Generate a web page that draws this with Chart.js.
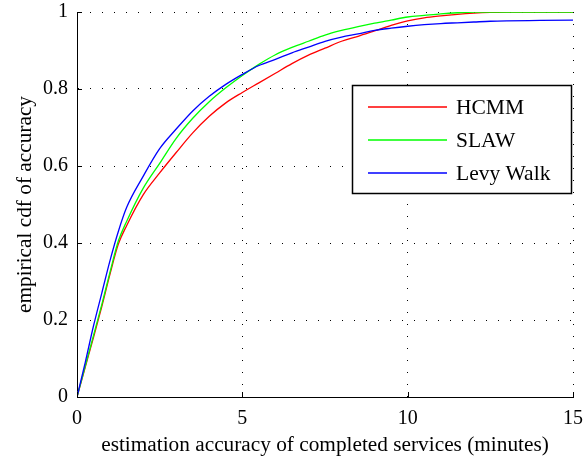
<!DOCTYPE html>
<html>
<head>
<meta charset="utf-8">
<script src="https://cdn.jsdelivr.net/npm/chart.js@4.4.1/dist/chart.umd.min.js"></script>
<style>
  html, body { margin: 0; padding: 0; background: #fff; }
</style>
</head>
<body>
<canvas id="chart" width="585" height="460"></canvas>
<script>
// x values (minutes) and the three empirical cdf curves
const minutes = [0, 0.25, 0.5, 0.75, 1, 1.25, 1.5, 2, 2.5, 3, 3.5, 4, 4.5, 5, 5.5, 6, 6.5, 7, 7.5, 8, 8.5, 9, 9.5, 10, 10.5, 11, 11.5, 12, 12.5, 13, 14, 15];
const hcmm     = [0, 0.078, 0.155, 0.235, 0.32, 0.397, 0.445, 0.525, 0.582, 0.635, 0.686, 0.729, 0.764, 0.791, 0.816, 0.841, 0.866, 0.888, 0.906, 0.924, 0.937, 0.951, 0.965, 0.977, 0.985, 0.990, 0.994, 0.997, 0.999, 1.0, 1.0, 1.0];
const slaw     = [0, 0.08, 0.16, 0.24, 0.325, 0.405, 0.456, 0.542, 0.607, 0.672, 0.724, 0.767, 0.803, 0.835, 0.864, 0.889, 0.908, 0.924, 0.940, 0.952, 0.962, 0.971, 0.979, 0.987, 0.991, 0.995, 0.998, 1.0, 1.0, 1.0, 1.0, 1.0];
const levyWalk = [0, 0.09, 0.185, 0.27, 0.355, 0.43, 0.492, 0.573, 0.645, 0.696, 0.743, 0.781, 0.812, 0.838, 0.861, 0.877, 0.894, 0.909, 0.924, 0.935, 0.943, 0.952, 0.958, 0.963, 0.967, 0.970, 0.972, 0.974, 0.976, 0.977, 0.978, 0.979];

const seriesNames = ['HCMM', 'SLAW', 'Levy Walk'];
const seriesColors = ['#ff0000', '#00ff00', '#0000ff'];
const xTickValues = [0, 5, 10, 15];
const yTickValues = [0, 0.2, 0.4, 0.6, 0.8, 1];

const serif = '"Liberation Serif", "Times New Roman", serif';

const toPoints = (ys) => minutes.map((x, i) => ({x: x, y: ys[i]}));

// matlab style: short tick marks pointing into the axes
const inwardTicks = {
    id: 'inwardTicks',
    afterDraw(chart) {
        const {ctx, chartArea, scales} = chart;
        ctx.save();
        ctx.strokeStyle = '#000';
        ctx.lineWidth = 1;
        ctx.beginPath();
        xTickValues.forEach(v => {
            const px = Math.round(scales.x.getPixelForValue(v)) + 0.5;
            ctx.moveTo(px, chartArea.bottom);
            ctx.lineTo(px, chartArea.bottom - 5);
        });
        yTickValues.forEach(v => {
            const py = Math.round(scales.y.getPixelForValue(v)) + 0.5;
            ctx.moveTo(chartArea.left, py);
            ctx.lineTo(chartArea.left + 5, py);
        });
        ctx.stroke();
        ctx.restore();
    }
};

// boxed legend sitting inside the plot
const boxLegend = {
    id: 'boxLegend',
    afterDraw(chart) {
        const {ctx} = chart;
        const box = {x: 352.5, y: 85.5, w: 219, h: 108};
        ctx.save();
        ctx.fillStyle = '#fff';
        ctx.fillRect(box.x, box.y, box.w, box.h);
        ctx.strokeStyle = '#000';
        ctx.lineWidth = 1.5;
        ctx.strokeRect(box.x, box.y, box.w, box.h);
        ctx.font = '21.5px ' + serif;
        ctx.textBaseline = 'middle';
        ctx.fillStyle = '#000';
        seriesNames.forEach((name, i) => {
            const y = box.y + 21.5 + i * 33;
            ctx.strokeStyle = seriesColors[i];
            ctx.lineWidth = 1.3;
            ctx.beginPath();
            ctx.moveTo(368, y);
            ctx.lineTo(447, y);
            ctx.stroke();
            ctx.fillText(name, 456, y + 1);
        });
        ctx.restore();
    }
};

const datasets = [hcmm, slaw, levyWalk].map((ys, i) => ({
    label: seriesNames[i],
    data: toPoints(ys),
    borderColor: seriesColors[i],
    backgroundColor: seriesColors[i],
    borderWidth: 1.3,
    pointRadius: 0,
    cubicInterpolationMode: 'monotone',
    fill: false,
    order: 2 - i
}));

new Chart(document.getElementById('chart'), {
    type: 'line',
    data: {datasets: datasets},
    options: {
        responsive: false,
        animation: false,
        layout: {padding: {top: 12, right: 12, left: 0, bottom: 0}},
        plugins: {
            legend: {display: false},
            tooltip: {enabled: false}
        },
        scales: {
            x: {
                type: 'linear',
                min: 0,
                max: 15,
                afterBuildTicks: (scale) => { scale.ticks = xTickValues.map(v => ({value: v})); },
                afterFit: (scale) => {
                    scale.height = 63;
                    scale.paddingLeft = 0;
                    scale.paddingRight = 0;
                },
                border: {display: true, color: '#000', width: 1, dash: [1, 11]},
                grid: {color: '#000', lineWidth: 1, drawTicks: false},
                ticks: {
                    color: '#000',
                    padding: 10,
                    maxRotation: 0,
                    font: {family: serif, size: 20}
                },
                title: {
                    display: true,
                    text: 'estimation accuracy of completed services (minutes)',
                    color: '#000',
                    padding: {top: 0, bottom: 2},
                    font: {family: serif, size: 21.3}
                }
            },
            y: {
                type: 'linear',
                min: 0,
                max: 1,
                afterBuildTicks: (scale) => { scale.ticks = yTickValues.map(v => ({value: v})); },
                afterFit: (scale) => {
                    scale.width = 77;
                    scale.paddingTop = 0;
                    scale.paddingBottom = 0;
                },
                border: {display: true, color: '#000', width: 1, dash: [1, 11]},
                grid: {color: '#000', lineWidth: 1, drawTicks: false},
                ticks: {
                    color: '#000',
                    padding: 9,
                    callback: (value) => String(+value.toFixed(1)),
                    font: {family: serif, size: 20}
                },
                title: {
                    display: true,
                    text: 'empirical cdf of accuracy',
                    color: '#000',
                    padding: {top: 13, bottom: 0},
                    font: {family: serif, size: 21.3}
                }
            }
        }
    },
    plugins: [inwardTicks, boxLegend]
});
</script>
</body>
</html>
